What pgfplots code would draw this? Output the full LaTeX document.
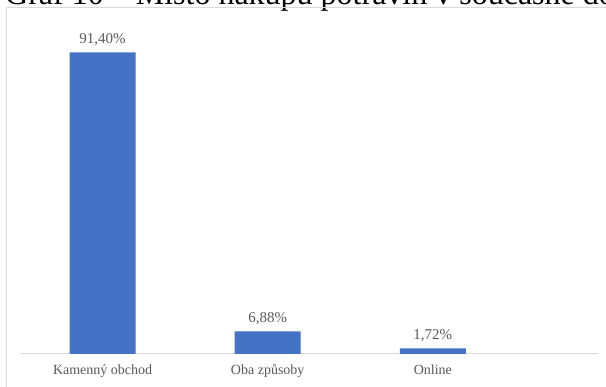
\documentclass[border=0pt]{standalone}
\usepackage{fontspec}
\setmainfont{Liberation Serif}
\usepackage{pgfplots}
\pgfplotsset{compat=1.18}
\definecolor{barblue}{HTML}{4472C4}
\definecolor{framegray}{HTML}{D9D9D9}
\definecolor{labelgray}{HTML}{595959}
\begin{document}
\begin{tikzpicture}[x=1pt,y=1pt]
\path[use as bounding box] (0,0) rectangle (606,387);
\begin{scope}
\clip (0,0) rectangle (606,387);
% chart title, running off the top edge
\node[overlay, anchor=base west, inner sep=0pt, font=\fontsize{32}{38}\selectfont] at (5,382)
  {Graf 10 – Místo nákupu potravin v současné době};
% chart area frame
\draw[overlay, framegray, line width=1pt] (6,-20) -- (6,379) -- (640,379);
\end{scope}
\begin{axis}[
  at={(20pt,33pt)}, anchor=south west,
  scale only axis, width=578pt, height=330pt,
  xmin=-0.5, xmax=3, ymin=0, ymax=100,
  axis y line=none,
  axis x line*=bottom,
  x axis line style={framegray, line width=1pt},
  xtick={0,1,2},
  xticklabels={Kamenný obchod, Oba způsoby, Online},
  major tick length=0pt,
  xticklabel style={font=\fontsize{14}{17}\selectfont, text=labelgray, anchor=base, inner sep=0pt, yshift=-20.5pt},
  ybar, bar width=66pt,
  nodes near coords={\pgfmathprintnumber[fixed,fixed zerofill,precision=2,use comma,assume math mode=true]{\pgfplotspointmeta}\%},
  every node near coord/.append style={font=\fontsize{15}{18}\selectfont, text=labelgray, anchor=base, inner sep=0pt, yshift=9pt},
  clip=false,
]
\addplot[fill=barblue, draw=none] coordinates {(0,91.40) (1,6.88) (2,1.72)};
\end{axis}
\end{tikzpicture}
\end{document}
